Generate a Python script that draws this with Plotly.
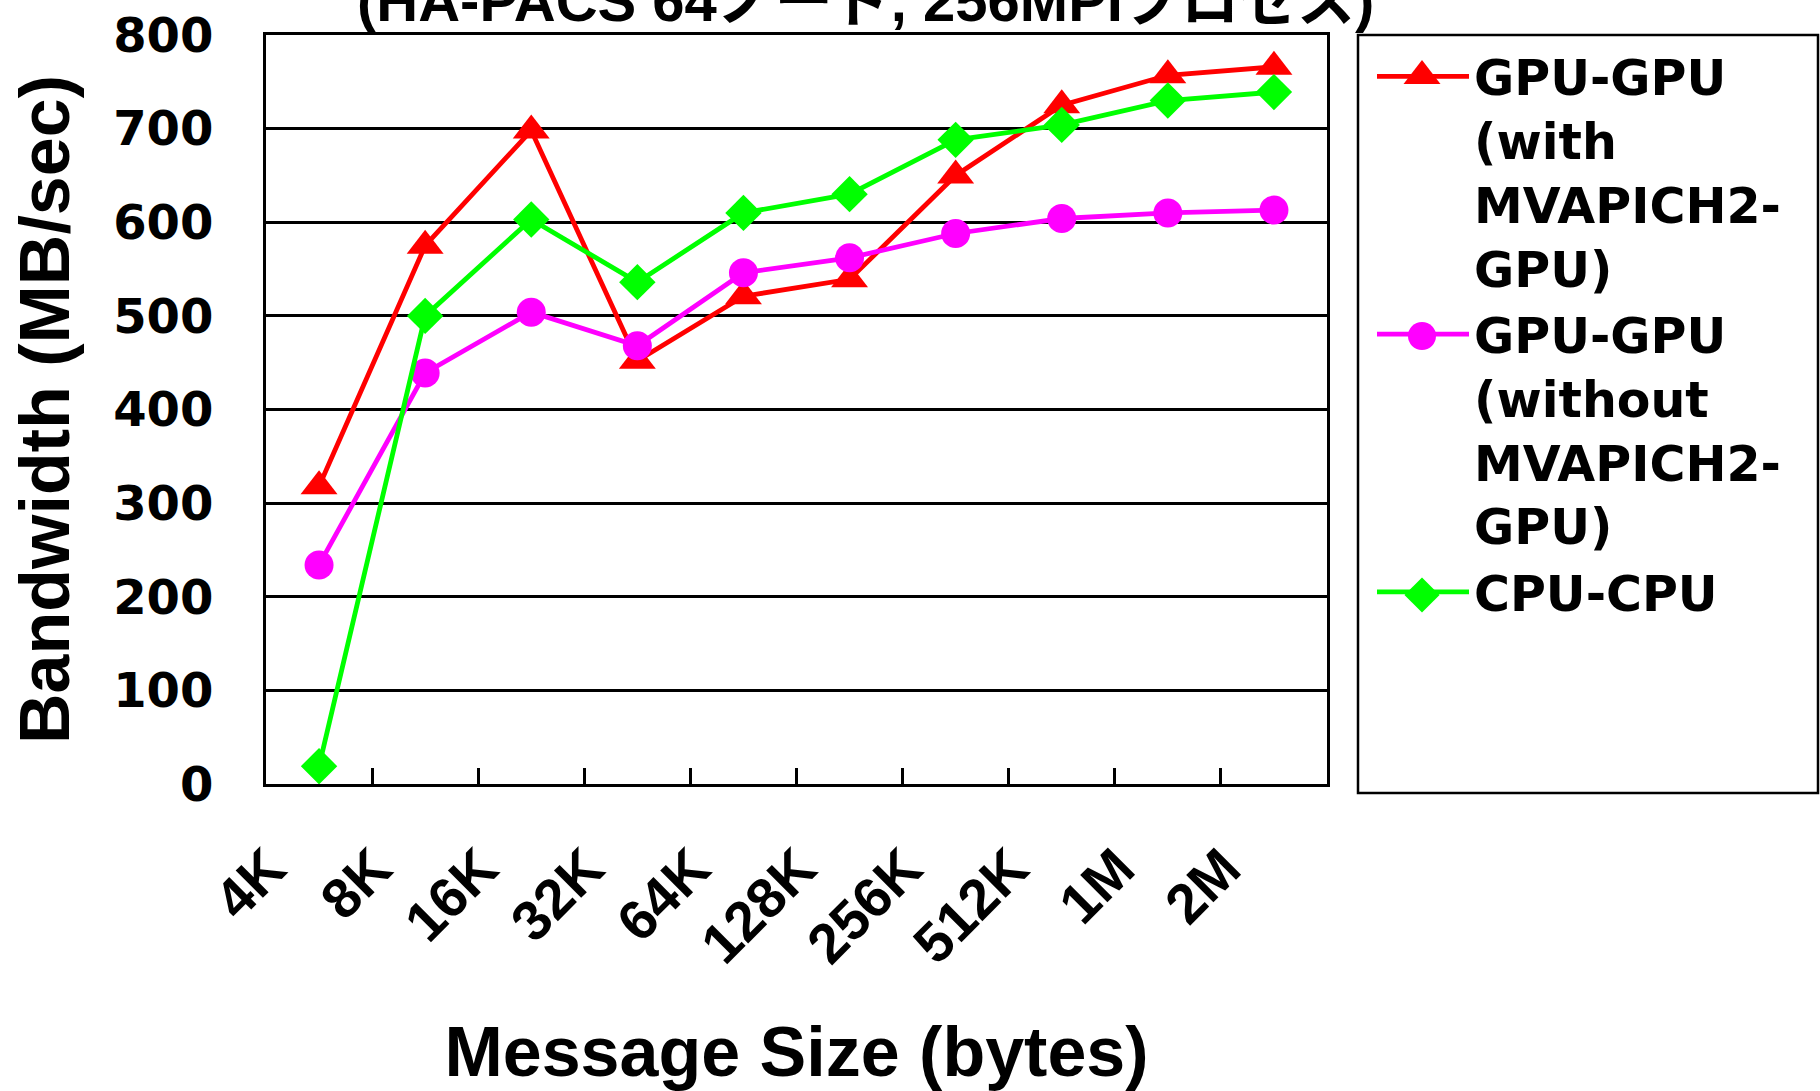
import plotly.graph_objects as go

# Message sizes on the x axis (category axis)
sizes = ["4K", "8K", "16K", "32K", "64K", "128K", "256K", "512K", "1M", "2M"]

# Bandwidth in MB/sec
gpu_with_mvapich = [318, 575, 698, 452, 521, 539, 650, 725, 757, 766]
gpu_without_mvapich = [234, 439, 504, 468, 546, 562, 588, 604, 610, 613]
cpu_cpu = [19, 500, 603, 536, 610, 630, 688, 704, 730, 739]

series_names = [
    "GPU-GPU<br>(with<br>MVAPICH2-<br>GPU)",
    "GPU-GPU<br>(without<br>MVAPICH2-<br>GPU)",
    "CPU-CPU",
]

y_ticks = [0, 100, 200, 300, 400, 500, 600, 700, 800]

W, H = 1820, 1091
TOP, BOTTOM = 35, 307
PLOT_LEFT, PLOT_RIGHT = 266, 1327
PLOT_H = H - TOP - BOTTOM

BOLD_WIDE = "DejaVu Sans"
ARIAL = "Liberation Sans, Arial, Noto Sans CJK JP"

colors = ["#ff0000", "#ff00ff", "#00ff00"]
symbols = ["triangle-up", "circle", "diamond"]
plot_sizes = [32, 29, 28]
key_sizes = [32, 28, 27]

fig = go.Figure()

for vals, name, color, symbol, msize in zip(
        [gpu_with_mvapich, gpu_without_mvapich, cpu_cpu],
        series_names, colors, symbols, plot_sizes):
    fig.add_trace(go.Scatter(
        x=sizes, y=vals, name=name, mode="lines+markers",
        line=dict(color=color, width=4.8),
        marker=dict(symbol=symbol, size=msize, color=color),
        xaxis="x", yaxis="y",
    ))

# Full-size legend key markers, drawn on a pixel-scaled helper subplot
# under the legend symbols (which plotly caps at 16px)
legend_top = 38
key_x = 1422
key_y = [76, 336, 595]
for color, symbol, ksize, ky in zip(colors, symbols, key_sizes, key_y):
    fig.add_trace(go.Scatter(
        x=[key_x], y=[ky], mode="markers", showlegend=False, hoverinfo="skip",
        marker=dict(symbol=symbol, size=ksize, color=color),
        xaxis="x2", yaxis="y2",
    ))

fig.update_layout(
    width=W, height=H,
    margin=dict(l=0, r=0, t=TOP, b=BOTTOM, autoexpand=False),
    paper_bgcolor="white", plot_bgcolor="rgba(0,0,0,0)",
    showlegend=True,
    legend=dict(
        x=1372 / W, y=(H - BOTTOM - legend_top) / PLOT_H,
        xanchor="left", yanchor="top",
        font=dict(family=BOLD_WIDE, size=49, color="black", weight="bold"),
        itemwidth=92, tracegroupgap=0, valign="top",
        bgcolor="rgba(0,0,0,0)", borderwidth=0,
    ),
    xaxis=dict(
        domain=[PLOT_LEFT / W, PLOT_RIGHT / W], automargin=False,
        type="category", range=[-0.5, 9.5],
        showline=True, linecolor="black", linewidth=3, mirror=True,
        ticks="inside", tickson="boundaries", ticklen=16, tickwidth=3, tickcolor="black",
        tickangle=-45, ticklabelstandoff=26, ticklabelshift=-50,
        tickfont=dict(family=ARIAL, size=56, color="black", weight="bold"),
        showgrid=False, zeroline=False,
        title=dict(text="Message Size (bytes)", standoff=54,
                   font=dict(family=ARIAL, size=70, color="black", weight="bold")),
    ),
    yaxis=dict(
        domain=[0, 1], automargin=False,
        range=[0, 800], tickvals=y_ticks,
        showline=True, linecolor="black", linewidth=3, mirror=True,
        ticks="inside", ticklen=16, tickwidth=3, tickcolor="black",
        ticklabelstandoff=40,
        tickfont=dict(family=BOLD_WIDE, size=48, color="black", weight="bold"),
        showgrid=True, gridcolor="black", gridwidth=2.5, zeroline=False,
        title=dict(text="Bandwidth (MB/sec)", standoff=21,
                   font=dict(family=ARIAL, size=70, color="black", weight="bold")),
    ),
    xaxis2=dict(domain=[0.74, 1.0], range=[0.74 * W, W], visible=False,
                anchor="y2", fixedrange=True, automargin=False),
    yaxis2=dict(domain=[0, 1], range=[H - BOTTOM, TOP], visible=False,
                anchor="x2", fixedrange=True, automargin=False),
    shapes=[dict(
        type="rect", xref="paper", yref="paper",
        x0=1358 / W, x1=1818 / W,
        y0=(H - BOTTOM - 793) / PLOT_H, y1=1.0,
        line=dict(color="black", width=2.5), fillcolor="rgba(0,0,0,0)",
    )],
    annotations=[dict(
        text="(HA-PACS 64ノード, 256MPIプロセス)",
        xref="paper", yref="paper", x=865 / W, y=1.0,
        xanchor="center", yanchor="bottom", showarrow=False,
        font=dict(family=ARIAL, size=58, color="black", weight="bold"),
    )],
)

fig.write_html("out.html")
